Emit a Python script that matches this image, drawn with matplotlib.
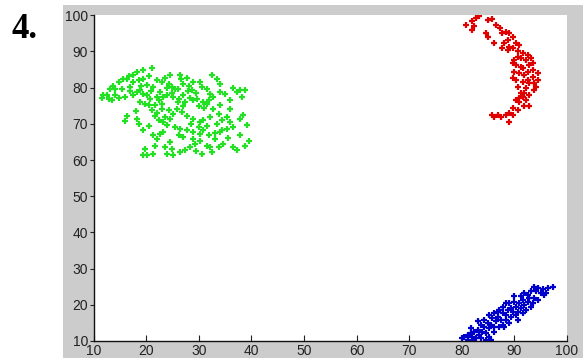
import numpy as np
import matplotlib.pyplot as plt
from matplotlib.patches import Rectangle

# cluster 1 (green)
green_x = [21.1, 19.4, 18.2, 16.8, 16.3, 15.6, 14.8, 13.8, 13.2, 12.5, 11.9, 11.6, 12.9, 14.1, 14.8, 13.5,
           17.6, 17.5, 18.6, 19.5, 20.5, 20.1, 21.4, 22.0, 23.0, 23.6, 24.3, 24.9, 25.5, 24.6, 26.5, 26.6,
           27.7, 27.1, 28.1, 28.7, 29.0, 30.3, 30.6, 31.5, 32.5, 33.4, 34.0, 32.2, 32.8, 34.1, 35.0, 36.6,
           37.3, 37.9, 38.8, 38.2, 36.0, 34.1, 32.8, 31.5, 30.9, 29.6, 29.0, 28.4, 27.4, 26.2, 25.2, 23.9,
           23.3, 22.7, 22.0, 20.8, 20.1, 19.5, 18.9, 18.2, 17.6, 17.0, 16.0, 18.9, 19.8, 20.5, 21.1, 21.7,
           22.4, 23.3, 24.6, 23.9, 25.5, 26.5, 27.7, 29.0, 30.0, 30.9, 31.9, 33.1, 34.1, 35.3, 36.6, 37.9,
           38.8, 39.5, 37.3, 37.9, 39.2, 35.3, 34.4, 36.0, 33.8, 32.2, 30.9, 30.3, 29.0, 27.7, 26.8, 25.8,
           25.2, 24.3, 23.0, 23.0, 21.7, 18.2, 16.3, 16.0, 18.6, 19.5, 21.4, 22.0, 21.7, 23.6, 24.9, 19.8,
           21.3, 23.9, 25.2, 26.5, 27.4, 28.4, 29.3, 30.3, 31.5, 32.5, 33.8, 34.7, 30.6, 32.2, 29.0, 27.1,
           26.2, 23.3, 22.7, 20.1, 19.5, 30.3, 33.4, 34.4,
           24.0, 25.0, 26.0, 27.0, 28.0, 29.5, 30.0, 31.0, 27.0, 26.0, 22.5, 21.0, 19.0, 17.0, 15.5, 14.0,
           22.0, 23.5, 28.5, 31.5, 33.0, 35.5, 36.5, 29.5, 24.5, 20.5, 18.0, 38.5, 36.0, 32.0]
green_y = [85.4, 84.8, 84.2, 83.2, 82.3, 82.5, 81.6, 80.6, 79.7, 78.1, 78.1, 77.1, 76.9, 78.1, 77.1, 76.5,
           83.4, 81.6, 82.0, 82.5, 83.2, 80.8, 80.2, 82.0, 81.6, 82.7, 81.1, 80.2, 79.7, 83.4, 83.6, 82.3,
           82.7, 81.1, 80.6, 79.3, 81.6, 81.6, 80.2, 79.7, 83.4, 82.5, 81.1, 78.3, 77.4, 78.8, 78.3, 79.9,
           78.8, 79.3, 79.4, 77.4, 76.5, 75.1, 74.2, 75.6, 76.0, 77.0, 76.5, 77.1, 76.0, 77.0, 77.4, 77.9,
           77.4, 78.8, 77.4, 77.0, 77.9, 78.3, 79.3, 78.8, 78.1, 80.2, 77.4, 76.0, 75.6, 75.1, 73.7, 72.3,
           71.2, 70.5, 71.4, 69.6, 69.1, 68.6, 68.2, 67.7, 69.1, 68.2, 66.8, 65.9, 67.7, 68.6, 69.1, 66.8,
           64.0, 65.4, 62.7, 71.4, 69.6, 71.9, 71.0, 74.2, 72.8, 71.9, 71.0, 70.5, 71.4, 72.3, 73.3, 74.2,
           72.8, 73.7, 74.2, 75.6, 75.1, 71.4, 72.3, 70.9, 70.0, 68.2, 66.8, 65.9, 64.0, 63.6, 63.1, 63.1,
           61.7, 61.7, 61.3, 62.2, 62.7, 63.6, 64.5, 65.4, 64.0, 62.2, 63.6, 64.5, 61.7, 63.6, 65.9, 66.3,
           66.8, 67.7, 67.3, 61.3, 61.3, 67.3, 70.0, 68.2,
           80.0, 78.5, 79.5, 78.0, 79.0, 78.5, 75.0, 74.5, 75.0, 76.0, 76.5, 79.0, 80.5, 79.0, 79.5, 79.5,
           73.0, 72.0, 70.0, 69.5, 67.5, 66.0, 63.5, 62.5, 65.0, 69.5, 73.5, 72.5, 70.5, 76.5]

# cluster 2 (red)
red_x = [83.3, 82.7, 82.0, 80.8, 82.4, 82.0, 84.9, 85.7, 86.5, 87.3, 84.6, 84.9, 86.2, 87.7, 88.4, 89.0,
         89.7, 88.7, 88.1, 89.0, 89.7, 90.3, 90.9, 90.6, 91.6, 92.5, 93.1, 92.2, 91.2, 90.0, 89.7, 90.3,
         91.2, 92.8, 93.5, 93.5, 92.5, 91.9, 90.9, 90.0, 89.7, 90.3, 91.6, 93.5, 94.4, 94.4, 93.8, 92.8,
         92.2, 91.9, 93.8, 94.1, 91.6, 90.9, 90.3, 92.8, 92.2, 90.9, 91.9, 92.8, 90.6, 89.7, 89.0, 89.7,
         88.4, 87.4, 86.8, 86.2, 85.8, 89.0, 91.2, 92.5, 90.6, 88.7, 87.7, 90.6, 91.6]
red_y = [99.7, 99.2, 98.5, 97.3, 97.0, 95.9, 98.7, 98.9, 97.3, 96.4, 95.0, 94.1, 92.4, 95.0, 95.5, 95.0,
         94.1, 93.2, 92.3, 91.3, 90.9, 92.3, 91.8, 90.0, 89.5, 89.0, 88.1, 87.6, 88.1, 87.6, 86.7, 86.3,
         85.8, 86.3, 86.7, 84.9, 84.4, 83.5, 84.0, 84.4, 82.6, 82.1, 81.7, 83.0, 84.0, 82.1, 81.2, 81.2,
         79.8, 78.4, 79.4, 80.3, 77.5, 77.1, 76.6, 78.0, 76.6, 76.1, 74.8, 74.8, 73.8, 74.3, 72.9, 72.5,
         72.5, 72.0, 72.5, 72.0, 72.5, 70.6, 78.4, 82.1, 80.3, 90.4, 90.9, 88.6, 85.4]

# cluster 3 (blue)
blue_x = [97.3, 96.3, 95.4, 94.4, 93.8, 93.2, 94.1, 95.1, 95.7, 92.5, 91.9, 92.8, 93.8, 94.4, 93.5, 92.5,
          91.6, 90.9, 91.9, 91.2, 90.3, 90.0, 89.3, 88.7, 89.7, 90.6, 90.3, 89.3, 88.4, 87.8, 87.1, 86.8,
          87.4, 88.4, 86.5, 85.8, 85.5, 84.9, 84.3, 85.2, 86.2, 83.6, 83.0, 83.9, 84.6, 83.3, 82.4, 81.7,
          81.1, 82.0, 82.7, 80.5, 80.1, 81.1, 82.4, 85.2, 85.5, 84.6, 91.2, 92.2, 90.0, 88.4, 87.8, 86.8,
          89.0, 96.0, 93.2, 86.2, 87.1, 87.8, 89.0, 90.6, 91.6, 88.1, 83.6, 81.7, 83.0, 84.3, 85.2, 86.2]
blue_y = [25.0, 24.6, 24.3, 24.6, 25.0, 23.7, 23.7, 23.2, 22.7, 22.7, 23.2, 21.8, 21.8, 21.3, 20.4, 20.9,
          21.3, 20.4, 20.0, 19.0, 19.5, 20.9, 19.0, 18.6, 18.1, 18.1, 17.2, 16.7, 17.2, 17.7, 18.6, 16.7,
          15.8, 15.8, 15.4, 16.3, 14.4, 14.9, 14.0, 13.5, 14.0, 14.4, 13.1, 12.6, 12.1, 11.7, 12.6, 12.1,
          11.7, 11.2, 10.8, 11.2, 10.8, 10.3, 10.3, 11.2, 10.3, 10.3, 22.3, 18.6, 22.3, 20.4, 19.5, 18.1,
          20.4, 23.2, 19.5, 12.6, 14.0, 14.4, 14.9, 15.8, 17.7, 14.0, 10.8, 13.5, 15.4, 15.8, 17.2, 17.7]

xticks = [10, 20, 30, 40, 50, 60, 70, 80, 90, 100]
yticks = [10, 20, 30, 40, 50, 60, 70, 80, 90, 100]

fig = plt.figure(figsize=(5.83, 3.58), dpi=100)
fig.patch.set_facecolor("white")
# grey matlab-like figure area, behind the axes
fig.patches.append(Rectangle((63/583, 0), 1 - 63/583, 1 - 5/358, transform=fig.transFigure,
                             facecolor="#cccccc", edgecolor="none", zorder=-10))

ax = fig.add_axes([93.5/583, 17/358, (567-93.5)/583, (341-15.3)/358])
ax.set_facecolor("white")
ax.set_zorder(1)

ms = 4.5
mw = 1.6
ax.plot(green_x, green_y, "+", color="#22e022", ms=ms, mew=mw)
ax.plot(red_x, red_y, "+", color="#e00000", ms=ms, mew=mw)
ax.plot(blue_x, blue_y, "+", color="#0000cc", ms=ms, mew=mw)

ax.set_xlim(10, 100)
ax.set_ylim(10, 100)
ax.set_xticks(xticks)
ax.set_yticks(yticks)
ax.spines["top"].set_visible(False)
ax.spines["right"].set_visible(False)
for s in ["left", "bottom"]:
    ax.spines[s].set_linewidth(1.0)
    ax.spines[s].set_color("#111111")
ax.tick_params(axis="x", direction="in", length=4, pad=2, labelsize=10, colors="#222222")
ax.tick_params(axis="y", direction="out", length=3, pad=1, labelsize=10, colors="#222222")
for lab in ax.get_xticklabels() + ax.get_yticklabels():
    lab.set_family("Liberation Sans")

fig.text(12/583, 1 - 38/358, "4.", family="Liberation Serif", weight="bold", fontsize=25, color="black")

plt.savefig("out.png", dpi=100)
